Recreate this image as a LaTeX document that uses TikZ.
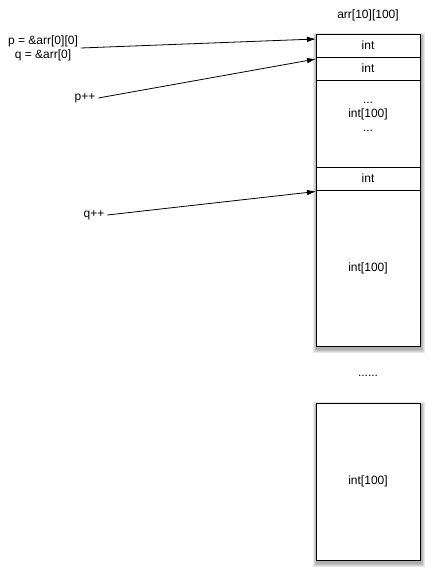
\documentclass[tikz,border=0pt]{standalone}
\usepackage{fontspec}
\setmainfont{Liberation Sans}
\usetikzlibrary{
  positioning,
  arrows.meta,
  backgrounds
}

\begin{document}
\begin{tikzpicture}[x=1pt, y=-1pt,
    font=\fontsize{12}{14}\selectfont,
  every node/.style = {inner sep=0pt, outer sep=0pt},
  cell/.style = {draw, line width=0.9pt, fill=white,
    minimum width=104pt, minimum height=23pt},
  lbl/.style = {align=center, outer sep=3pt},
  ptr/.style = {-{Latex[length=9pt,width=5.5pt]}, line width=0.8pt}]
  \useasboundingbox (0,0) rectangle (440,583);
  % first row of the array
  \node[cell, anchor=north west] (c1) at (316,34) {int};
  \node[cell, below=0pt of c1] (c2) {int};
  \node[cell, below=0pt of c2, minimum height=87pt] (c3) {};
  \node[align=center] (c3txt) at ([yshift=7pt]c3.center) {...\\int[100]\\...};
  \node[cell, below=0pt of c3] (c4) {int};
  \node[cell, below=0pt of c4, minimum height=156pt] (c5) {int[100]};
  \node (dots) at (368,376) {......};
  \node[cell, anchor=north west, minimum height=157pt] (last) at (316,403) {int[100]};
  \node (top) at (368,15) {arr[10][100]};
  % soft shadows
  \begin{scope}[on background layer]
    \foreach \a/\b in {c1/c5, last/last}
      \foreach \r in {1,...,4}
        \fill[black, opacity=0.09]
          ([xshift=-\r pt+1pt, yshift=\r pt-3pt]\a.north west) rectangle
          ([xshift=\r pt+1pt, yshift=-\r pt-3pt]\b.south east);
  \end{scope}
  % pointers
  \node[lbl] (pq) at (43,48) {p = \&arr[0][0]\\q = \&arr[0]};
  \node[lbl] (pinc) at (85,98) {p++};
  \node[lbl] (qinc) at (94,215) {q++};
  \draw[ptr] (pq.east) -- ([yshift=-5pt]c1.north west);
  \draw[ptr] (pinc.east) -- ([yshift=-2pt]c2.north west);
  \draw[ptr] (qinc.east) -- ([yshift=-1.5pt]c5.north west);
\end{tikzpicture}
\end{document}
